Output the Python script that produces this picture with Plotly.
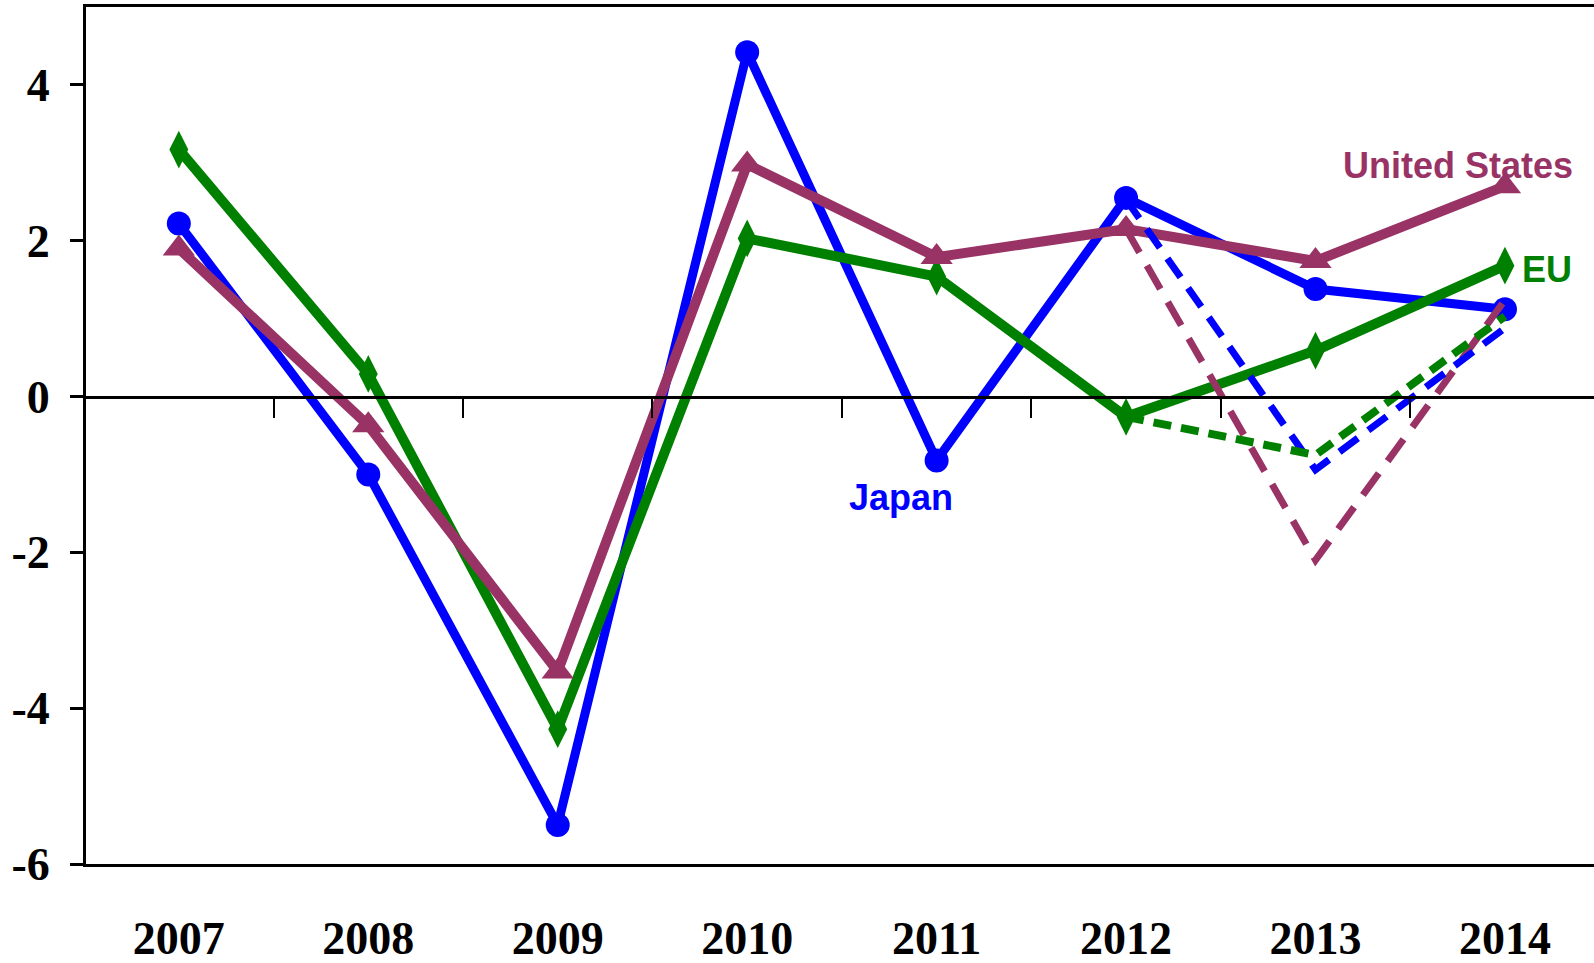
import plotly.graph_objects as go

years = ["2007", "2008", "2009", "2010", "2011", "2012", "2013", "2014"]
japan = [2.22, -1.0, -5.5, 4.42, -0.82, 2.55, 1.38, 1.12]
eu = [3.17, 0.29, -4.27, 2.03, 1.54, -0.26, 0.59, 1.68]
us = [1.9, -0.37, -3.53, 2.98, 1.79, 2.15, 1.74, 2.7]
# alternative (dashed) paths 2012-2014
alt_years = ["2012", "2013", "2014"]
japan_alt = [2.53, -0.94, 0.88]
eu_alt = [-0.26, -0.75, 1.03]
us_alt = [2.15, -2.1, 1.24]
y_ticks = [-6, -4, -2, 0, 2, 4]

BLUE = "#0000FF"
GREEN = "#008000"
PURPLE = "#993366"

xi = list(range(len(years)))
alt_xi = [years.index(y) for y in alt_years]

fig = go.Figure()

fig.add_trace(go.Scatter(x=xi, y=japan, mode="lines+markers",
                         line=dict(color=BLUE, width=9),
                         marker=dict(symbol="circle", size=24, color=BLUE),
                         showlegend=False))
fig.add_trace(go.Scatter(x=xi, y=eu, mode="lines+markers",
                         line=dict(color=GREEN, width=10),
                         marker=dict(symbol="diamond-tall", size=27, color=GREEN),
                         showlegend=False))
fig.add_trace(go.Scatter(x=xi, y=us, mode="lines+markers",
                         line=dict(color=PURPLE, width=10),
                         marker=dict(symbol="triangle-up", size=28, color=PURPLE),
                         showlegend=False))
fig.add_trace(go.Scatter(x=alt_xi, y=us_alt, mode="lines",
                         line=dict(color=PURPLE, width=7, dash="27px,15px"),
                         showlegend=False))
fig.add_trace(go.Scatter(x=alt_xi, y=japan_alt, mode="lines",
                         line=dict(color=BLUE, width=7, dash="23px,13px"),
                         showlegend=False))
fig.add_trace(go.Scatter(x=alt_xi, y=eu_alt, mode="lines",
                         line=dict(color=GREEN, width=8, dash="18px,10px"),
                         showlegend=False))

xr = [-0.49, 7.47]
fig.update_layout(
    width=1594, height=963,
    margin=dict(l=86, r=0, t=7, b=99),
    plot_bgcolor="white", paper_bgcolor="white",
    xaxis=dict(range=xr, tickvals=xi, ticktext=years, showgrid=False, automargin=False,
               zeroline=False, showline=True, linecolor="black", linewidth=3,
               mirror=True, ticks="outside", ticklen=0, ticklabelstandoff=32,
               tickfont=dict(family="Liberation Serif", size=46, color="black", weight="bold")),
    xaxis2=dict(range=xr, overlaying="x", anchor="free", position=6/11, side="bottom",
                showgrid=False, zeroline=False, showline=True, linecolor="black",
                linewidth=3, ticks="outside", ticklen=19, tickwidth=2, tickcolor="black",
                tickvals=[i + 0.5 for i in xi[:-1]], showticklabels=False, automargin=False),
    yaxis=dict(range=[-6, 5], tickvals=y_ticks, ticktext=[str(v) for v in y_ticks],
               showgrid=False, zeroline=False, showline=True, linecolor="black",
               linewidth=3, ticks="outside", ticklen=13, tickwidth=3, tickcolor="black",
               ticklabelstandoff=11, automargin=False,
               tickfont=dict(family="Liberation Serif", size=46, color="black", weight="bold")),
)
# dummy trace to activate xaxis2
fig.add_trace(go.Scatter(x=[None], y=[None], xaxis="x2", showlegend=False))

ann_font = dict(family="Liberation Sans", size=36, weight="bold")
fig.add_annotation(x=6.75, y=2.96, text="United States", showarrow=False,
                   font=dict(color=PURPLE, **ann_font))
fig.add_annotation(x=3.81, y=-1.30, text="Japan", showarrow=False,
                   font=dict(color=BLUE, **ann_font))
fig.add_annotation(x=7.22, y=1.63, text="EU", showarrow=False,
                   font=dict(color=GREEN, **ann_font))

fig.write_html("out.html")
